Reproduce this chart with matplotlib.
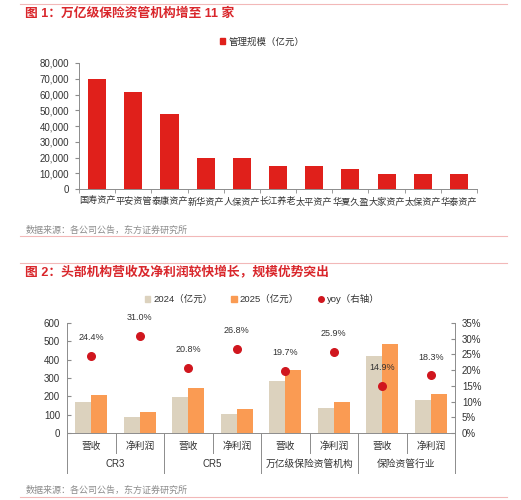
import matplotlib
matplotlib.use("Agg")
import matplotlib.pyplot as plt
from matplotlib.lines import Line2D
from matplotlib.patches import Patch
import numpy as np

plt.rcParams['font.family'] = ['Liberation Sans', 'Noto Sans CJK SC', 'DejaVu Sans']

# ---------- data ----------
companies = ["国寿资产", "平安资管", "泰康资产", "新华资产", "人保资产", "长江养老",
             "太平资产", "华夏久盈", "大家资产", "太保资产", "华泰资产"]
aum = [70000, 61400, 47800, 19500, 19500, 14800, 14400, 12500, 9700, 9300, 9300]

sub_cats = ["营收", "净利润", "营收", "净利润", "营收", "净利润", "营收", "净利润"]
groups = ["CR3", "CR5", "万亿级保险资管机构", "保险资管行业"]
v2024 = [167, 88, 198, 102, 285, 135, 420, 180]
v2025 = [208, 115, 244, 129, 344, 170, 484, 213]
yoy = [24.4, 31.0, 20.8, 26.8, 19.7, 25.9, 14.9, 18.3]

title1 = "图 1：万亿级保险资管机构增至 11 家"
title2 = "图 2：头部机构营收及净利润较快增长，规模优势突出"
source = "数据来源：各公司公告，东方证券研究所"

W, H = 521, 500
RED = "#E0201B"
TITLE_RED = "#D9262B"
BEIGE = "#DCD2BE"
ORANGE = "#FA9B53"
DOT = "#D0161E"
TXT = "#333333"
GRAY = "#8C8C8C"
LINE = "#F2B8B8"

fig = plt.figure(figsize=(W / 100, H / 100), dpi=100)

def fx(px):
    return px / W

def fy(py):
    return 1 - py / H

# decoration lines
for y in (4, 236, 263, 497):
    fig.add_artist(Line2D([fx(20), fx(507)], [fy(y), fy(y)], color=LINE, lw=0.8))

fig.text(fx(25), fy(14), title1, color=TITLE_RED, fontsize=9.2, fontweight='bold', va='center', ha='left')
fig.text(fx(25), fy(272), title2, color=TITLE_RED, fontsize=9.2, fontweight='bold', va='center', ha='left')
fig.text(fx(26), fy(230), source, color=GRAY, fontsize=6.5, va='center', ha='left')
fig.text(fx(26), fy(490), source, color=GRAY, fontsize=6.5, va='center', ha='left')

# ---------- chart 1 ----------
ax1 = fig.add_axes([fx(79), fy(189), fx(477 - 79), (189 - 63) / H])
x1 = np.arange(len(companies))
ax1.bar(x1, aum, width=0.5, color=RED, zorder=2)
ax1.set_xlim(-0.5, len(companies) - 0.5)
ax1.set_ylim(0, 80000)
ax1.set_yticks(np.arange(0, 80001, 10000))
ax1.set_yticklabels([f"{v:,}" for v in range(0, 80001, 10000)], fontsize=7, color=TXT)
ax1.set_xticks(x1)
ax1.set_xticklabels(companies, fontsize=6.6, color=TXT)
ax1.set_xticks(np.arange(-0.5, len(companies)), minor=True)
ax1.tick_params(axis='x', which='major', length=0, pad=6)
ax1.tick_params(axis='x', which='minor', length=3, color=GRAY, direction='out')
ax1.tick_params(axis='y', length=3, color=GRAY, direction='out', pad=4)
for s in ('top', 'right'):
    ax1.spines[s].set_visible(False)
for s in ('left', 'bottom'):
    ax1.spines[s].set_color(GRAY)
    ax1.spines[s].set_linewidth(0.7)

leg1 = fig.legend(handles=[Patch(color=RED, label="管理规模（亿元）")],
                  loc='center', bbox_to_anchor=(fx(262), fy(42)), frameon=False,
                  fontsize=6.8, handlelength=0.6, handleheight=0.6, handletextpad=0.3)
for t in leg1.get_texts():
    t.set_color(TXT)

# ---------- chart 2 ----------
ax2 = fig.add_axes([fx(67), fy(433), fx(455 - 67), (433 - 323) / H])
x2 = np.arange(len(sub_cats))
bw = 0.33
ax2.bar(x2 - bw / 2, v2024, width=bw, color=BEIGE, zorder=2)
ax2.bar(x2 + bw / 2, v2025, width=bw, color=ORANGE, zorder=2)
ax2.set_xlim(-0.5, len(sub_cats) - 0.5)
ax2.set_ylim(0, 600)
ax2.set_yticks(np.arange(0, 601, 100))
ax2.set_yticklabels([str(v) for v in range(0, 601, 100)], fontsize=7, color=TXT)
ax2.tick_params(axis='y', length=3, color=GRAY, direction='in', pad=5)
ax2.set_xticks([])
for s in ('top', 'right'):
    ax2.spines[s].set_visible(False)
for s in ('left', 'bottom'):
    ax2.spines[s].set_color(GRAY)
    ax2.spines[s].set_linewidth(0.7)

ax3 = ax2.twinx()
ax3.set_ylim(0, 35)
ax3.set_yticks(np.arange(0, 36, 5))
ax3.set_yticklabels([f"{v}%" for v in range(0, 36, 5)], fontsize=7, color=TXT)
ax3.tick_params(axis='y', length=3, color=GRAY, direction='in', pad=5)
for s in ('top', 'left', 'bottom'):
    ax3.spines[s].set_visible(False)
ax3.spines['right'].set_color(GRAY)
ax3.spines['right'].set_linewidth(0.7)
ax3.scatter(x2, yoy, s=30, color=DOT, zorder=3)
for xi, yi in zip(x2, yoy):
    ax3.annotate(f"{yi:.1f}%", (xi, yi), xytext=(0, 10), textcoords='offset points',
                 ha='center', va='bottom', fontsize=6.5, color=TXT)

# category labels & separators
trans = ax2.get_xaxis_transform()
ax_h = 110.0
for xi, lab in zip(x2, sub_cats):
    ax2.text(xi, -13 / ax_h, lab, transform=trans, ha='center', va='center', fontsize=7, color=TXT)
for gi, g in enumerate(groups):
    ax2.text(gi * 2 + 0.5, -31 / ax_h, g, transform=trans, ha='center', va='center', fontsize=7, color=TXT)
for b in np.arange(0.5, len(sub_cats) - 0.5, 2):
    ax2.plot([b, b], [0, -20 / ax_h], transform=trans, color=GRAY, lw=0.7, clip_on=False)
for b in np.arange(-0.5, len(sub_cats), 2):
    ax2.plot([b, b], [0, -40 / ax_h], transform=trans, color=GRAY, lw=0.7, clip_on=False)

handles2 = [
    Patch(color=BEIGE, label="2024（亿元）"),
    Patch(color=ORANGE, label="2025（亿元）"),
    Line2D([], [], marker='o', linestyle='none', color=DOT, markersize=4, label="yoy（右轴）"),
]
leg2 = fig.legend(handles=handles2, loc='center', bbox_to_anchor=(fx(262), fy(299)), ncol=3,
                  frameon=False, fontsize=6.8, handlelength=0.6, handleheight=0.6,
                  handletextpad=0.3, columnspacing=2.0)
for t in leg2.get_texts():
    t.set_color(TXT)

fig.savefig("out.png", dpi=100)
